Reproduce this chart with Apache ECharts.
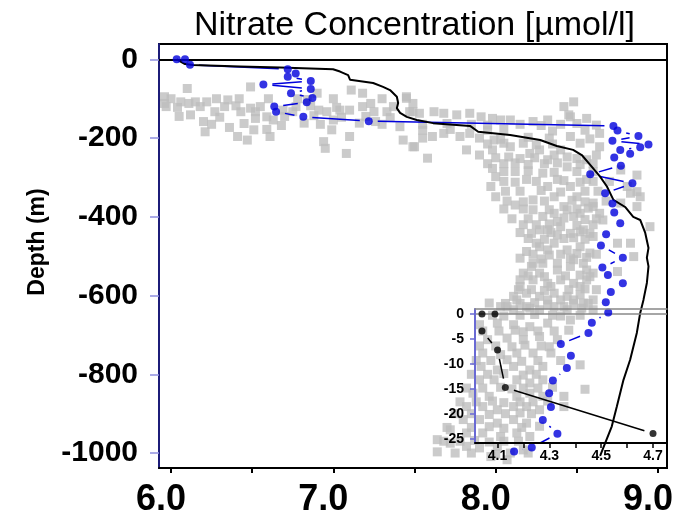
<!DOCTYPE html>
<html>
<head>
<meta charset="utf-8">
<title>Nitrate Concentration</title>
<script src="https://cdn.jsdelivr.net/npm/echarts@6/dist/echarts.min.js"></script>
<style>
  html, body { margin: 0; padding: 0; background: #fff; }
  #chart { width: 686px; height: 526px; }
</style>
</head>
<body>
<div id="chart"></div>
<script>
// nitrate (umol/l) vs depth (m)

// grey cloud of bottle samples [nitrate, depth]
const grayPoints = [
  [6.10,-74],[6.49,-70],[5.96,-95],[5.96,-112],[6.06,-108],[6.11,-112],[6.15,-108],[6.22,-108],[6.35,-103],[6.12,-141],
  [6.20,-158],[6.27,-133],[6.21,-184],[6.36,-173],[6.41,-196],[6.47,-205],[6.51,-179],[6.59,-178],[6.61,-196],[6.43,-133],
  [6.49,-124],[6.52,-133],[6.59,-146],[6.63,-154],[6.69,-129],[6.75,-133],[6.82,-162],[6.90,-86],[6.91,-129],[6.96,-133],
  [7.00,-154],[6.99,-179],[6.94,-209],[6.95,-226],[7.08,-239],[7.10,-196],[7.04,-129],[7.10,-129],[7.11,-78],[7.18,-86],
  [7.23,-112],[7.25,-133],[7.16,-162],[7.26,-158],[7.33,-133],[7.41,-171],[7.43,-205],[7.49,-222],[7.45,-99],[7.49,-133],
  [7.45,-95],[7.49,-112],[7.47,-133],[7.53,-137],[7.62,-133],[7.68,-137],[7.76,-141],[7.84,-137],[7.91,-146],[7.98,-150],
  [8.03,-154],[8.09,-154],[8.23,-158],[8.32,-154],[8.42,-120],[8.48,-108],[8.45,-141],[8.56,-150],[8.62,-167],[8.64,-188],
  [7.50,-222],[7.58,-251],[7.61,-196],[7.68,-188],[7.78,-196],[7.84,-188],[7.82,-230],[7.90,-243],[7.98,-230],[7.99,-205],
  [8.09,-222],[8.17,-213],[8.21,-239],[8.27,-230],[8.32,-255],[8.36,-243],[8.40,-230],[8.52,-213],[8.46,-196],[8.64,-222],
  [8.62,-243],[8.56,-255],[7.98,-277],[8.00,-298],[7.97,-323],[8.00,-349],[8.12,-370],[8.19,-305],[8.23,-357],[8.29,-289],
  [8.32,-323],[8.38,-305],[8.36,-349],[8.44,-273],[8.46,-323],[8.42,-374],[8.50,-349],[8.56,-305],[8.60,-374],[8.52,-391],
  [8.77,-281],[8.81,-323],[8.87,-294],[8.83,-340],[8.89,-349],[8.87,-374],[8.64,-391],[8.46,-146],[8.87,-336],[8.77,-365],
  [8.23,-382],[8.29,-399],[8.36,-391],[8.44,-382],[8.60,-365],[8.66,-408],[8.32,-433],[8.40,-425],[8.46,-442],[8.54,-433],
  [8.60,-450],[8.19,-488],[8.27,-476],[8.36,-467],[8.44,-484],[8.52,-476],[8.58,-492],[8.75,-467],[8.83,-467],[8.85,-501],
  [8.95,-425],[8.22,-526],[8.29,-518],[8.38,-535],[8.46,-526],[8.54,-518],[8.60,-543],[8.75,-539],[8.15,-560],[8.23,-560],
  [8.32,-569],[8.40,-560],[8.48,-569],[8.56,-560],[8.62,-585],[8.11,-602],[8.19,-594],[8.27,-602],[8.36,-594],[8.44,-602],
  [8.52,-598],[8.60,-611],[8.03,-628],[8.11,-636],[8.19,-628],[8.27,-636],[8.36,-628],[8.44,-636],[8.53,-632],[8.60,-636],
  [8.38,-412],[8.48,-399],[8.27,-433],[8.38,-446],[8.25,-467],[8.32,-484],[8.23,-518],[8.17,-543],[8.27,-543],[8.38,-518],
  [8.48,-509],[8.56,-535],[8.15,-577],[8.34,-577],[8.52,-577],[8.13,-611],[8.32,-611],[8.40,-611],[8.48,-611],
  [7.96,-619],[8.07,-628],[8.21,-632],[8.42,-628],[8.54,-619],[7.90,-674],[8.01,-670],[8.11,-674],[8.21,-679],[8.32,-670],
  [8.46,-662],[7.95,-712],[8.07,-708],[8.17,-712],[8.27,-704],[8.38,-712],[7.92,-746],[8.03,-750],[8.13,-746],[8.23,-746],
  [8.34,-746],[8.52,-776],[7.91,-780],[8.01,-789],[8.11,-780],[8.21,-789],[8.29,-780],[7.90,-814],[7.99,-814],[8.13,-814],
  [8.21,-822],[8.29,-814],[7.86,-848],[7.96,-856],[8.13,-856],[8.21,-848],[8.29,-856],[8.42,-856],[8.55,-838],[7.82,-882],
  [7.92,-882],[8.01,-890],[8.11,-882],[8.19,-882],[8.27,-890],[8.42,-882],[7.80,-915],[7.90,-915],[8.01,-924],[8.11,-915],
  [8.19,-924],[8.27,-932],[7.72,-941],[7.82,-949],[7.92,-949],[8.03,-958],[8.13,-949],[8.21,-958],[7.64,-966],[7.72,-975],
  [7.82,-983],[7.90,-987],[8.01,-983],[8.09,-1000],[8.17,-992],[7.97,-1009],[8.07,-1017],[7.64,-997],
  // denser fill of the cloud
  [6.00,-100],[6.28,-100],[6.42,-100],[6.60,-100],[6.78,-100],[6.84,-102],[7.00,-100],[7.30,-100],
  [5.97,-120],[6.04,-122],[6.18,-120],[6.33,-120],[6.40,-118],[6.55,-120],[6.77,-120],[6.86,-118],[7.02,-122],[7.18,-120],[7.37,-120],
  [6.05,-145],[6.30,-147],[6.52,-150],[6.70,-145],[6.88,-143],[7.05,-147],[7.20,-145],[7.35,-148],
  [6.25,-165],[6.45,-163],[6.68,-168],[6.92,-165],[7.30,-165],
  [7.55,-165],[7.70,-163],[7.85,-165],[7.95,-167],[8.15,-165],[8.28,-168],[8.40,-165],[8.50,-163],
  [7.55,-180],[7.72,-178],[7.95,-180],[8.05,-178],[8.35,-182],[8.55,-180],
  [7.55,-200],[7.90,-200],[8.03,-203],[8.20,-198],[8.33,-200],[8.58,-202],
  [7.95,-215],[8.05,-213],[8.25,-217],[8.35,-215],
  [8.00,-250],[8.08,-248],[8.15,-252],[8.24,-250],[8.44,-248],[8.50,-252],
  [7.95,-265],[8.05,-265],[8.12,-263],[8.20,-267],[8.30,-265],[8.38,-263],[8.52,-267],[8.60,-265],
  [8.05,-285],[8.12,-285],[8.20,-283],[8.36,-287],[8.50,-285],[8.60,-285],
  [8.05,-310],[8.12,-312],[8.25,-310],[8.42,-308],[8.52,-312],[8.60,-310],[8.70,-310],
  [8.06,-335],[8.15,-335],[8.28,-333],[8.40,-337],[8.55,-335],[8.63,-335],
  [8.07,-360],[8.17,-362],[8.30,-360],[8.47,-358],[8.55,-362],[8.68,-360],
  [8.05,-380],[8.17,-380],[8.33,-382],[8.50,-380],[8.57,-378],
  [8.10,-405],[8.20,-405],[8.42,-403],[8.55,-407],[8.62,-405],
  [8.17,-420],[8.25,-420],[8.33,-418],[8.50,-422],[8.60,-420],
  [8.15,-440],[8.22,-442],[8.34,-440],[8.52,-438],[8.58,-442],
  [8.20,-455],[8.30,-457],[8.42,-455],[8.48,-453],[8.55,-457],
  [8.23,-495],[8.33,-497],[8.40,-495],[8.50,-493],[8.62,-495],
  [8.15,-505],[8.28,-507],[8.46,-505],[8.56,-503],
  [8.20,-550],[8.30,-552],[8.43,-550],[8.52,-548],[8.58,-552],
  [8.14,-585],[8.22,-585],[8.30,-587],[8.45,-585],[8.55,-583],
  [8.06,-620],[8.15,-620],[8.24,-618],[8.32,-622],[8.48,-620],[8.57,-620],
  [7.98,-650],[8.05,-652],[8.15,-650],[8.24,-648],[8.35,-650],[8.40,-652],[8.52,-650],
  [7.92,-690],[8.02,-690],[8.12,-688],[8.17,-692],[8.26,-690],[8.36,-690],[8.45,-688],
  [7.90,-728],[8.00,-728],[8.10,-730],[8.18,-726],[8.28,-728],[8.33,-730],
  [7.88,-765],[7.97,-765],[8.07,-763],[8.16,-767],[8.26,-765],[8.40,-765],
  [7.85,-800],[7.95,-800],[8.05,-798],[8.17,-802],[8.25,-800],
  [7.82,-835],[7.92,-835],[8.03,-833],[8.10,-837],[8.17,-835],[8.26,-835],[8.35,-833],
  [7.78,-870],[7.88,-870],[7.98,-868],[8.05,-872],[8.15,-870],[8.23,-870],[8.32,-868],
  [7.75,-900],[7.85,-900],[7.96,-902],[8.06,-900],[8.15,-898],[8.22,-900],
  [7.70,-935],[7.85,-935],[7.96,-933],[8.05,-937],[8.16,-935],
  [7.68,-970],[7.78,-970],[7.87,-968],[7.96,-972],[8.05,-970],[8.14,-970],
  [7.75,-1000],[7.85,-1000],[8.00,-1002],[8.20,-1000]
];

// high-resolution profile (black line)
const profilePoints = [
  [6.035,0],[6.086,-12],[6.136,-14.5],[6.425,-18],[6.672,-21],[6.998,-25],[7.041,-31],[7.091,-40],[7.103,-52],
  [7.245,-60],[7.306,-70],[7.349,-78],[7.391,-95],[7.399,-111],[7.391,-124],[7.411,-136],[7.452,-146],[7.514,-154],
  [7.614,-162],[7.842,-169],[7.892,-184],[8.089,-192],[8.274,-205],[8.376,-220],[8.477,-230],[8.530,-243],[8.582,-268],
  [8.643,-298],[8.685,-323],[8.725,-357],[8.797,-375],[8.847,-400],[8.890,-408],[8.921,-441],[8.941,-479],[8.931,-504],
  [8.941,-526],[8.931,-568],[8.910,-611],[8.890,-644],[8.869,-695],[8.828,-763],[8.787,-814],[8.746,-882],[8.715,-932],
  [8.674,-975],[8.643,-1007]
];

// station profile (blue dots)
const bluePoints = [
  [6.035,0],[6.086,0],[6.117,-14],[6.719,-25],[6.768,-36],[6.719,-44],[6.861,-55],[6.569,-64],[6.861,-75],[6.739,-86],
  [6.871,-98],[6.836,-109],[6.636,-120],[6.647,-133],[6.815,-146],[7.218,-157],[8.725,-169],[8.750,-181],[8.879,-195],
  [8.719,-207],[8.941,-216],[8.890,-223],[8.767,-230],[8.828,-240],[8.730,-249],[8.771,-270],[8.582,-292],[8.842,-315],
  [8.674,-340],[8.719,-366],[8.730,-389],[8.767,-416],[8.680,-444],[8.648,-473],[8.783,-504],[8.657,-529],[8.691,-548],
  [8.783,-569],[8.709,-591],[8.678,-617],[8.693,-643],[8.592,-669],[8.571,-695],[8.401,-723],[8.463,-753],[8.438,-784],
  [8.352,-816],[8.329,-848],[8.340,-883],[8.290,-916],[8.380,-951],[8.222,-986],[8.113,-996]
];

// inset: upper 25 m
const insetPoints = [[4.09,0],[4.04,0],[4.04,-3.4],[4.10,-7.2],[4.13,-14.7],[4.70,-23.9]];

const mainXTicks = [6, 6.5, 7, 7.5, 8, 8.5, 9];
const mainXLabels = [6, 7, 8, 9];
const mainYTicks = [0, -200, -400, -600, -800, -1000];
const insetXTicks = [4.1, 4.2, 4.3, 4.4, 4.5, 4.6, 4.7];
const insetXLabels = [4.1, 4.3, 4.5, 4.7];
const insetYTicks = [0, -5, -10, -15, -20, -25];

function toSegments(pts) {
  return pts.slice(1).map((p, i) => [pts[i][0], pts[i][1], p[0], p[1]]);
}

// R style type="b": segments stop short of the points
function gappedLine(color, width, gap) {
  return function (params, api) {
    const a = api.coord([api.value(0), api.value(1)]);
    const b = api.coord([api.value(2), api.value(3)]);
    const dx = b[0] - a[0], dy = b[1] - a[1];
    const len = Math.sqrt(dx * dx + dy * dy);
    if (len <= 2 * gap) return null;
    const ux = dx / len, uy = dy / len;
    return {
      type: 'line',
      shape: { x1: a[0] + ux * gap, y1: a[1] + uy * gap, x2: b[0] - ux * gap, y2: b[1] - uy * gap },
      style: { stroke: color, lineWidth: width }
    };
  };
}

const FONT = "'Liberation Sans', Arial, sans-serif";
const BLUE = '#0000dc';

const myChart = echarts.init(document.getElementById('chart'));

const option = {
  animation: false,
  title: {
    text: 'Nitrate Concentration [µmol/l]',
    left: 194,
    top: 9,
    padding: 0,
    textStyle: { fontFamily: FONT, fontSize: 34, fontWeight: 'normal', color: '#000' }
  },
  grid: [
    { left: 159, right: 19, top: 44, bottom: 58, show: true, borderColor: '#000', borderWidth: 2 },
    { left: 475, right: 19, top: 309, bottom: 83 }
  ],
  xAxis: [
    {
      type: 'value', gridIndex: 0, min: 5.926, max: 9.055,
      splitLine: { show: false },
      axisLine: { show: true, onZero: false, lineStyle: { color: '#000', width: 2 } },
      axisTick: { show: true, length: 5, lineStyle: { color: '#000', width: 2 }, customValues: mainXTicks },
      axisLabel: {
        customValues: mainXLabels, margin: 14, padding: [0, 20, 0, 0],
        formatter: v => v.toFixed(1),
        fontFamily: FONT, fontSize: 36, fontWeight: 'bold', color: '#000'
      }
    },
    {
      type: 'value', gridIndex: 1, min: 4.013, max: 4.754, z: 10,
      splitLine: { show: false },
      axisLine: { show: true, onZero: false, lineStyle: { color: '#000', width: 2 } },
      axisTick: { show: true, length: 5, lineStyle: { color: '#000', width: 1.5 }, customValues: insetXTicks },
      axisLabel: {
        customValues: insetXLabels, margin: 6,
        formatter: v => v.toFixed(1),
        fontFamily: FONT, fontSize: 14, fontWeight: 'bold', color: '#000'
      }
    },
    {
      type: 'value', gridIndex: 1, position: 'top', min: 4.013, max: 4.754, z: 10,
      splitLine: { show: false },
      axisLine: { show: true, onZero: false, lineStyle: { color: '#888', width: 1.5 } },
      axisTick: { show: false }, axisLabel: { show: false }
    }
  ],
  yAxis: [
    {
      type: 'value', gridIndex: 0, min: -1038, max: 39,
      name: 'Depth (m)', nameLocation: 'middle', nameGap: 110,
      nameTextStyle: { fontFamily: FONT, fontSize: 23, fontWeight: 'bold', color: '#000', padding: [0, 0, 0, 28] },
      splitLine: { show: false },
      axisLine: { show: true, onZero: false, lineStyle: { color: '#1c1c78', width: 2 } },
      axisTick: { show: true, length: 9, lineStyle: { color: '#9090e0', width: 1.5 }, customValues: mainYTicks },
      axisLabel: {
        customValues: mainYTicks, margin: 21,
        formatter: v => String(v),
        fontFamily: FONT, fontSize: 30, fontWeight: 'bold', color: '#000'
      }
    },
    {
      type: 'value', gridIndex: 1, min: -25.8, max: 1, z: 10,
      splitLine: { show: false },
      axisLine: { show: true, onZero: false, lineStyle: { color: '#6a6ad4', width: 2 } },
      axisTick: { show: true, length: 5, lineStyle: { color: '#6a6ad4', width: 1.5 }, customValues: insetYTicks },
      axisLabel: {
        customValues: insetYTicks, margin: 11,
        formatter: v => String(v),
        fontFamily: FONT, fontSize: 14, fontWeight: 'bold', color: '#000'
      }
    }
  ],
  series: [
    {
      name: 'samples', type: 'scatter', xAxisIndex: 0, yAxisIndex: 0,
      symbol: 'rect', symbolSize: 9, silent: true,
      itemStyle: { color: '#bebebe' },
      data: grayPoints, z: 2
    },
    {
      name: 'blue line', type: 'custom', xAxisIndex: 0, yAxisIndex: 0,
      renderItem: gappedLine(BLUE, 1.5, 9),
      encode: { x: [0, 2], y: [1, 3] },
      data: toSegments(bluePoints), silent: true, z: 3
    },
    {
      name: 'profile', type: 'line', xAxisIndex: 0, yAxisIndex: 0,
      data: profilePoints, showSymbol: false, symbol: 'none',
      lineStyle: { color: '#000', width: 2 }, silent: true, z: 4,
      markLine: {
        silent: true, symbol: 'none', label: { show: false },
        lineStyle: { color: '#000', width: 2, type: 'solid' },
        data: [{ yAxis: 0 }]
      }
    },
    {
      name: 'station', type: 'scatter', xAxisIndex: 0, yAxisIndex: 0,
      symbol: 'circle', symbolSize: 8, silent: true,
      itemStyle: { color: BLUE },
      data: bluePoints, z: 5
    },
    {
      name: 'inset line', type: 'custom', xAxisIndex: 1, yAxisIndex: 1,
      renderItem: gappedLine('#000', 1.5, 9),
      encode: { x: [0, 2], y: [1, 3] },
      data: toSegments(insetPoints), silent: true, z: 6
    },
    {
      name: 'inset', type: 'scatter', xAxisIndex: 1, yAxisIndex: 1,
      symbol: 'circle', symbolSize: 7, silent: true,
      itemStyle: { color: '#000' },
      data: insetPoints, z: 7,
      markLine: {
        silent: true, symbol: 'none', label: { show: false },
        lineStyle: { color: '#888', width: 1.5, type: 'solid' },
        data: [{ yAxis: 0 }]
      }
    }
  ]
};

option && myChart.setOption(option, true);
</script>
</body>
</html>
